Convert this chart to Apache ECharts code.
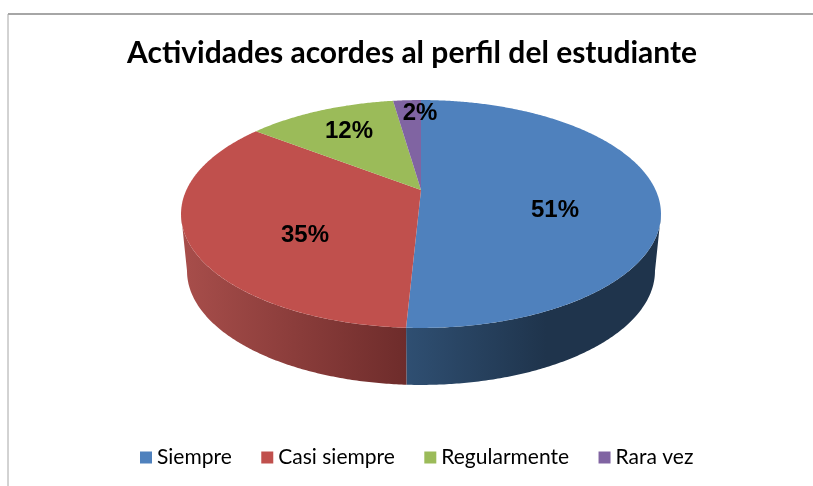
<!DOCTYPE html>
<html>
<head>
<meta charset="utf-8">
<title>Actividades acordes al perfil del estudiante</title>
<script src="https://cdn.jsdelivr.net/npm/echarts@6/dist/echarts.min.js"></script>
<style>
html, body { margin: 0; padding: 0; background: #fff; }
#chart { width: 813px; height: 486px; }
</style>
</head>
<body>
<div id="chart"></div>
<script>
var categories = ['Siempre', 'Casi siempre', 'Regularmente', 'Rara vez'];
// estimated from the slice boundaries, the labels show them rounded
var percentages = [50.8, 34.6, 12.3, 2.3];

var topColors = ['#4f81bd', '#c0504d', '#9bbb59', '#8064a2'];
var sideStops = [
    [[0, '#2f4f72'], [0.55, '#1f344c'], [1, '#1f344c']],
    [[0, '#a84e4b'], [1, '#6e2c2b']],
    [[0, '#9bbb59'], [1, '#9bbb59']],
    [[0, '#8064a2'], [1, '#8064a2']]
];
// label centres, the reference places them by hand
var labelSpots = [[555, 210], [305, 235], [349, 131], [420, 113]];

// tilted disc seen in perspective: front edge looks bigger than the back
var disc = { cx: 421, cy: 190, a: 234.6, b: 108.9, p: 0.2105, depth: 57, bottomScale: 0.975 };
var wallFrom = 102.2, wallTo = 257.8;

function project(deg, drop) {
    var t = deg * Math.PI / 180;
    var w = 1 + disc.p * Math.cos(t);
    var sx = drop ? disc.bottomScale : 1;
    return [
        disc.cx + sx * disc.a * Math.sin(t) / w,
        disc.cy - disc.b * Math.cos(t) / w + (drop || 0)
    ];
}

function arc(from, to, drop) {
    var pts = [];
    var n = Math.max(2, Math.ceil(Math.abs(to - from) * 2));
    for (var i = 0; i <= n; i++) {
        pts.push(project(from + (to - from) * i / n, drop));
    }
    return pts;
}

function renderSlice(idx) {
    return function (params, api) {
        var start = api.value(0), end = api.value(1);
        var children = [];
        var a = Math.max(start, wallFrom), b = Math.min(end, wallTo);
        if (b > a) {
            var stops = sideStops[idx].map(function (s) {
                return { offset: s[0], color: s[1] };
            });
            children.push({
                type: 'polygon',
                shape: { points: arc(a, b, 0).concat(arc(b, a, disc.depth)) },
                style: { fill: new echarts.graphic.LinearGradient(0, 0, 1, 0, stops) }
            });
        }
        children.push({
            type: 'polygon',
            shape: { points: [[disc.cx, disc.cy]].concat(arc(start, end, 0)) },
            style: { fill: topColors[idx] }
        });
        children.push({
            type: 'text',
            z2: 10,
            style: {
                x: labelSpots[idx][0],
                y: labelSpots[idx][1],
                text: Math.round(api.value(2)) + '%',
                fill: '#000',
                font: 'bold 24px "Liberation Sans", Arial, sans-serif',
                align: 'center',
                verticalAlign: 'middle'
            }
        });
        return { type: 'group', children: children };
    };
}

var series = [];
var acc = 0;
for (var i = 0; i < categories.length; i++) {
    var next = acc + percentages[i] * 3.6;
    series.push({
        type: 'custom',
        name: categories[i],
        coordinateSystem: 'none',
        itemStyle: { color: topColors[i] },
        renderItem: renderSlice(i),
        data: [[acc, next, percentages[i]]],
        silent: true
    });
    acc = next;
}

var chart = echarts.init(document.getElementById('chart'));
chart.setOption({
    animation: false,
    backgroundColor: '#fff',
    title: {
        text: 'Actividades acordes al perfil del estudiante',
        left: 122,
        top: 33,
        textStyle: { fontFamily: 'Lato', fontWeight: 'bold', fontSize: 30, color: '#000' }
    },
    legend: {
        data: categories,
        left: 135,
        top: 442,
        icon: 'rect',
        itemWidth: 12,
        itemHeight: 12,
        itemGap: 29.5,
        textStyle: { fontFamily: 'Lato', fontSize: 21, color: '#000' }
    },
    graphic: [
        { type: 'line', shape: { x1: 8, y1: 14, x2: 813, y2: 14 }, style: { stroke: '#a6a6a6', lineWidth: 2 } },
        { type: 'line', shape: { x1: 8, y1: 14, x2: 8, y2: 486 }, style: { stroke: '#a6a6a6', lineWidth: 1 } }
    ],
    series: series
});
</script>
</body>
</html>
